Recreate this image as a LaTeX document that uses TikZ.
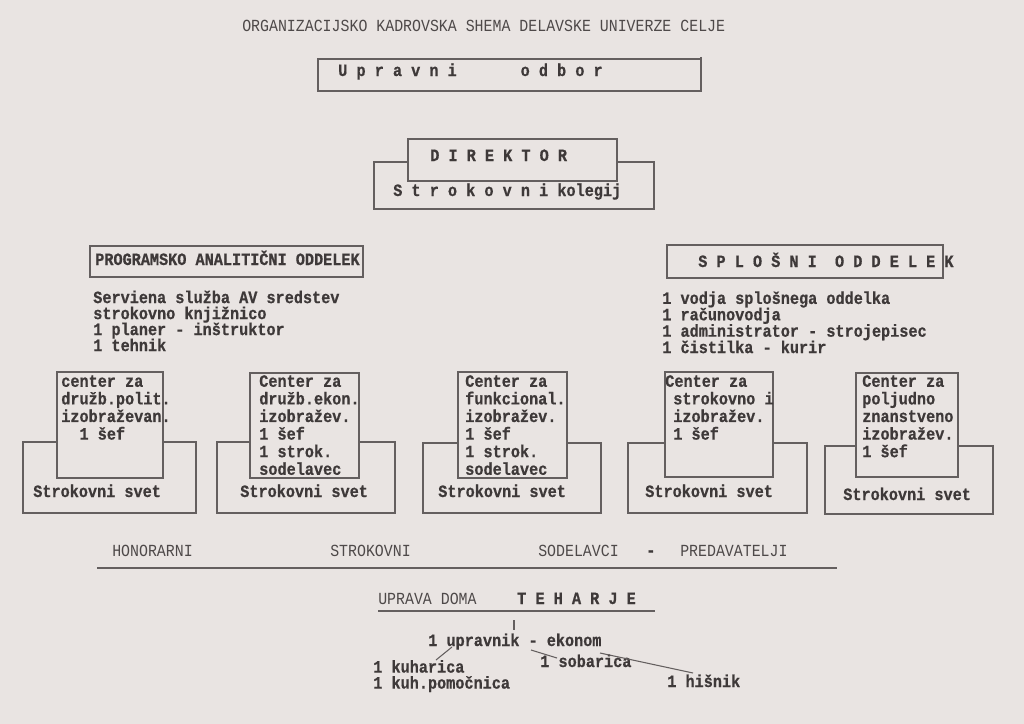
\documentclass[tikz,border=0pt]{standalone}
\usepackage{fontspec}
\newfontfamily\twfont[FakeStretch=0.88,BoldFeatures={FakeBold=0.6}]{Liberation Mono}
\newcommand\bfnt[1]{\fontsize{12.95}{#1}\selectfont\twfont\bfseries\lineskiplimit=-30pt\relax}
\newcommand\rgfnt{\fontsize{12.7}{12}\selectfont\twfont}
\definecolor{paper}{RGB}{233,228,226}
\definecolor{ink}{RGB}{62,57,57}
\definecolor{inkl}{RGB}{78,73,73}
\definecolor{rule}{RGB}{100,95,95}
\begin{document}
\frenchspacing
\begin{tikzpicture}[x=0.75pt,y=-0.75pt,
  box/.style={draw=rule,line width=0.85pt,fill=paper},
  connector/.style={draw=rule,line width=0.8pt},
  capt/.style={inner sep=0,anchor=base west,text=inkl,font=\rgfnt},
  capb/.style={inner sep=0,anchor=base west,text=ink,font=\bfnt{12}},
  one/.style={inner sep=0,anchor=base west,text=ink,font=\bfnt{12}},
  blk/.style={inner sep=0,anchor=north west,align=left,text=ink,font=\bfnt{#1}}]
\fill[paper] (0,0) rectangle (1024,724);
\useasboundingbox (0,0) rectangle (1024,724);

% title
\node[capt] (title) at (242,32) {ORGANIZACIJSKO KADROVSKA SHEMA DELAVSKE UNIVERZE CELJE};

% Upravni odbor
\draw[box] (318,59) rectangle (701,91);
\draw[connector] (701,57) -- (701,91);
\node[one] (uo) at (338,76) {U p r a v n i~~~~~~~o d b o r};

% Direktor / Strokovni kolegij
\draw[box] (374,162) rectangle (654,209);
\draw[box] (408,139) rectangle (617,181);
\node[one] (dir) at (430,161) {D I R E K T O R};
\node[one] (kol) at (393,196) {S t r o k o v n i kolegij};

% Programsko analiticni oddelek
\draw[box] (90,246) rectangle (363,277);
\node[capb] (pao) at (95,265) {PROGRAMSKO ANALITIČNI ODDELEK};
\node[blk=12] (paot) at (93,290.3) {\strut Serviena služba AV sredstev\\strokovno knjižnico\\1 planer - inštruktor\\1 tehnik};

% Splosni oddelek
\draw[box] (667,245) rectangle (943,278);
\node[one] (so) at (698,267) {S P L O Š N I~~O D D E L E K};
\node[blk=12.3] (sot) at (662,291.1) {\strut 1 vodja splošnega oddelka\\1 računovodja\\1 administrator - strojepisec\\1 čistilka - kurir};

% centers
\draw[box] (23,442) rectangle (196,513);
\draw[box] (57,372) rectangle (163,478);
\node[blk=13.2] (c1) at (61,374.2) {\strut center za\\družb.polit.\\izobraževan.\\~~1 šef};
\node[one] (s1) at (33,497) {Strokovni svet};

\draw[box] (217,442) rectangle (395,513);
\draw[box] (250,373) rectangle (359,478);
\node[blk=13.2] (c2) at (259,374.2) {\strut Center za\\družb.ekon.\\izobražev.\\1 šef\\1 strok.\\sodelavec};
\node[one] (s2) at (240,497) {Strokovni svet};

\draw[box] (423,443) rectangle (601,513);
\draw[box] (458,372) rectangle (567,478);
\node[blk=13.2] (c3) at (465,374.2) {\strut Center za\\funkcional.\\izobražev.\\1 šef\\1 strok.\\sodelavec};
\node[one] (s3) at (438,497) {Strokovni svet};

\draw[box] (628,443) rectangle (807,513);
\draw[box] (665,372) rectangle (773,477);
\node[blk=13.2] (c4) at (673,374.2) {\strut\hspace*{-6pt}Center za\\strokovno i\\izobražev.\\1 šef};
\node[one] (s4) at (645,497) {Strokovni svet};

\draw[box] (825,446) rectangle (993,514);
\draw[box] (856,373) rectangle (958,477);
\node[blk=13.2] (c5) at (862,374.2) {\strut Center za\\poljudno\\znanstveno\\izobražev.\\1 šef};
\node[one] (s5) at (843,500) {Strokovni svet};

% honorarni
\node[capt] (h1) at (112,556) {HONORARNI};
\node[capt] (h2) at (330,556) {STROKOVNI};
\node[capt] (h3) at (538,556) {SODELAVCI};
\node[capb] (h4) at (646,556) {-};
\node[capt] (h5) at (680,556) {PREDAVATELJI};
\draw[connector,line width=1.1pt] (97,568) -- (837,568);

% uprava doma
\node[capt] (ud) at (378,604) {UPRAVA DOMA};
\node[capb] (teh) at (517,604) {T E H A R J E};
\draw[connector,line width=1.3pt] (378,611) -- (655,611);
\coordinate (t1) at (514,620);
\coordinate (t2) at (514,630);
\draw[connector] (t1) -- (t2);

\node[one] (upr) at (428,646) {1 upravnik - ekonom};
\node[blk=12] (kuh) at (373,659.8) {\strut 1 kuharica\\1 kuh.pomočnica};
\node[one] (sob) at (540,667) {1 sobarica};
\node[one] (his) at (667,687) {1 hišnik};

\coordinate (a1) at (452,647);
\coordinate (a2) at (436,660);
\coordinate (b1) at (531,650);
\coordinate (b2) at (557,658);
\coordinate (d1) at (600,653);
\coordinate (d2) at (693,673);
\draw[connector] (a1) -- (a2);
\draw[connector] (b1) -- (b2);
\draw[connector] (d1) -- (d2);
\end{tikzpicture}
\end{document}
